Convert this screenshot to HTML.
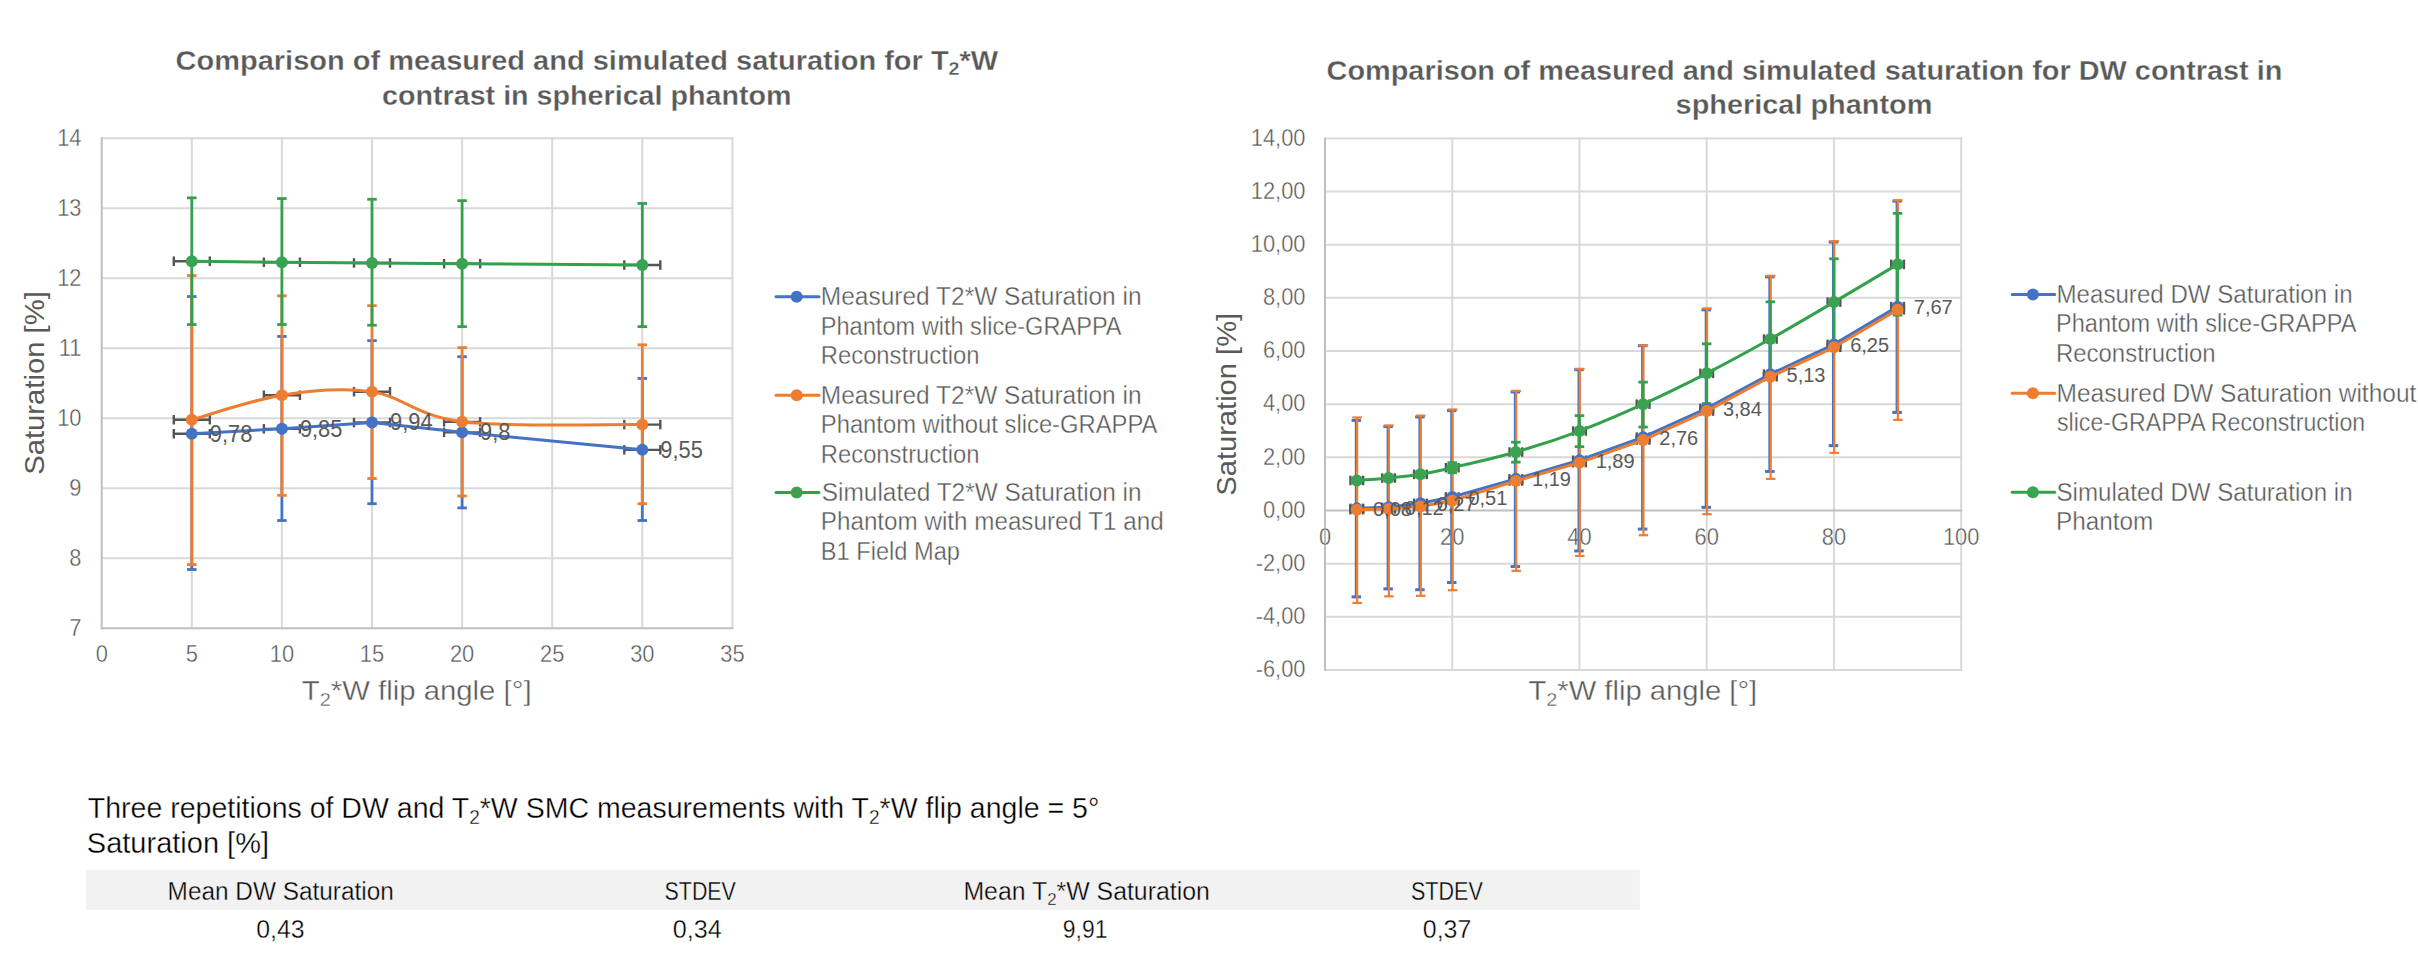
<!DOCTYPE html>
<html><head><meta charset="utf-8"><style>
html,body{margin:0;padding:0;background:#fff;width:2418px;height:966px;overflow:hidden}
svg{display:block}
text{font-family:"Liberation Sans",sans-serif}
.r{stroke:#fff;stroke-width:0.35px}
.b{stroke:#fff;stroke-width:0.3px}
.rb{stroke:#F2F2F2;stroke-width:0.35px}
</style></head><body>
<svg width="2418" height="966" viewBox="0 0 2418 966">
<rect width="2418" height="966" fill="#fff"/>
<line x1="101.70" y1="558.31" x2="733.40" y2="558.31" stroke="#D9D9D9" stroke-width="2.00"/>
<line x1="101.70" y1="488.32" x2="733.40" y2="488.32" stroke="#D9D9D9" stroke-width="2.00"/>
<line x1="101.70" y1="418.33" x2="733.40" y2="418.33" stroke="#D9D9D9" stroke-width="2.00"/>
<line x1="101.70" y1="348.34" x2="733.40" y2="348.34" stroke="#D9D9D9" stroke-width="2.00"/>
<line x1="101.70" y1="278.35" x2="733.40" y2="278.35" stroke="#D9D9D9" stroke-width="2.00"/>
<line x1="101.70" y1="208.36" x2="733.40" y2="208.36" stroke="#D9D9D9" stroke-width="2.00"/>
<line x1="101.70" y1="138.37" x2="733.40" y2="138.37" stroke="#D9D9D9" stroke-width="2.00"/>
<line x1="191.80" y1="137.37" x2="191.80" y2="628.30" stroke="#D9D9D9" stroke-width="2.00"/>
<line x1="281.90" y1="137.37" x2="281.90" y2="628.30" stroke="#D9D9D9" stroke-width="2.00"/>
<line x1="372.00" y1="137.37" x2="372.00" y2="628.30" stroke="#D9D9D9" stroke-width="2.00"/>
<line x1="462.10" y1="137.37" x2="462.10" y2="628.30" stroke="#D9D9D9" stroke-width="2.00"/>
<line x1="552.20" y1="137.37" x2="552.20" y2="628.30" stroke="#D9D9D9" stroke-width="2.00"/>
<line x1="642.30" y1="137.37" x2="642.30" y2="628.30" stroke="#D9D9D9" stroke-width="2.00"/>
<line x1="732.40" y1="137.37" x2="732.40" y2="628.30" stroke="#D9D9D9" stroke-width="2.00"/>
<line x1="101.70" y1="137.37" x2="101.70" y2="629.30" stroke="#BFBFBF" stroke-width="2.00"/>
<line x1="100.70" y1="628.30" x2="733.40" y2="628.30" stroke="#BFBFBF" stroke-width="2.00"/>
<text x="81.50" y="635.80" font-size="23.00" text-anchor="end" fill="#595959" class="r" textLength="12.15" lengthAdjust="spacingAndGlyphs">7</text>
<text x="81.50" y="565.81" font-size="23.00" text-anchor="end" fill="#595959" class="r" textLength="12.15" lengthAdjust="spacingAndGlyphs">8</text>
<text x="81.50" y="495.82" font-size="23.00" text-anchor="end" fill="#595959" class="r" textLength="12.15" lengthAdjust="spacingAndGlyphs">9</text>
<text x="81.50" y="425.83" font-size="23.00" text-anchor="end" fill="#595959" class="r" textLength="24.31" lengthAdjust="spacingAndGlyphs">10</text>
<text x="81.50" y="355.84" font-size="23.00" text-anchor="end" fill="#595959" class="r" textLength="22.68" lengthAdjust="spacingAndGlyphs">11</text>
<text x="81.50" y="285.85" font-size="23.00" text-anchor="end" fill="#595959" class="r" textLength="24.31" lengthAdjust="spacingAndGlyphs">12</text>
<text x="81.50" y="215.86" font-size="23.00" text-anchor="end" fill="#595959" class="r" textLength="24.31" lengthAdjust="spacingAndGlyphs">13</text>
<text x="81.50" y="145.87" font-size="23.00" text-anchor="end" fill="#595959" class="r" textLength="24.31" lengthAdjust="spacingAndGlyphs">14</text>
<text x="101.70" y="662.10" font-size="23.00" text-anchor="middle" fill="#595959" class="r" textLength="12.15" lengthAdjust="spacingAndGlyphs">0</text>
<text x="191.80" y="662.10" font-size="23.00" text-anchor="middle" fill="#595959" class="r" textLength="12.15" lengthAdjust="spacingAndGlyphs">5</text>
<text x="281.90" y="662.10" font-size="23.00" text-anchor="middle" fill="#595959" class="r" textLength="24.31" lengthAdjust="spacingAndGlyphs">10</text>
<text x="372.00" y="662.10" font-size="23.00" text-anchor="middle" fill="#595959" class="r" textLength="24.31" lengthAdjust="spacingAndGlyphs">15</text>
<text x="462.10" y="662.10" font-size="23.00" text-anchor="middle" fill="#595959" class="r" textLength="24.31" lengthAdjust="spacingAndGlyphs">20</text>
<text x="552.20" y="662.10" font-size="23.00" text-anchor="middle" fill="#595959" class="r" textLength="24.31" lengthAdjust="spacingAndGlyphs">25</text>
<text x="642.30" y="662.10" font-size="23.00" text-anchor="middle" fill="#595959" class="r" textLength="24.31" lengthAdjust="spacingAndGlyphs">30</text>
<text x="732.40" y="662.10" font-size="23.00" text-anchor="middle" fill="#595959" class="r" textLength="24.31" lengthAdjust="spacingAndGlyphs">35</text>
<line x1="191.80" y1="296.55" x2="191.80" y2="569.51" stroke="#4472C4" stroke-width="2.80"/>
<line x1="187.05" y1="296.55" x2="196.55" y2="296.55" stroke="#4472C4" stroke-width="2.80"/>
<line x1="187.05" y1="569.51" x2="196.55" y2="569.51" stroke="#4472C4" stroke-width="2.80"/>
<line x1="173.78" y1="433.73" x2="209.82" y2="433.73" stroke="#555555" stroke-width="2.40"/>
<line x1="173.78" y1="428.98" x2="173.78" y2="438.48" stroke="#555555" stroke-width="2.40"/>
<line x1="209.82" y1="428.98" x2="209.82" y2="438.48" stroke="#555555" stroke-width="2.40"/>
<line x1="281.90" y1="336.44" x2="281.90" y2="520.52" stroke="#4472C4" stroke-width="2.80"/>
<line x1="277.15" y1="336.44" x2="286.65" y2="336.44" stroke="#4472C4" stroke-width="2.80"/>
<line x1="277.15" y1="520.52" x2="286.65" y2="520.52" stroke="#4472C4" stroke-width="2.80"/>
<line x1="263.88" y1="428.83" x2="299.92" y2="428.83" stroke="#555555" stroke-width="2.40"/>
<line x1="263.88" y1="424.08" x2="263.88" y2="433.58" stroke="#555555" stroke-width="2.40"/>
<line x1="299.92" y1="424.08" x2="299.92" y2="433.58" stroke="#555555" stroke-width="2.40"/>
<line x1="372.00" y1="340.64" x2="372.00" y2="503.72" stroke="#4472C4" stroke-width="2.80"/>
<line x1="367.25" y1="340.64" x2="376.75" y2="340.64" stroke="#4472C4" stroke-width="2.80"/>
<line x1="367.25" y1="503.72" x2="376.75" y2="503.72" stroke="#4472C4" stroke-width="2.80"/>
<line x1="353.98" y1="422.53" x2="390.02" y2="422.53" stroke="#555555" stroke-width="2.40"/>
<line x1="353.98" y1="417.78" x2="353.98" y2="427.28" stroke="#555555" stroke-width="2.40"/>
<line x1="390.02" y1="417.78" x2="390.02" y2="427.28" stroke="#555555" stroke-width="2.40"/>
<line x1="462.10" y1="356.74" x2="462.10" y2="507.92" stroke="#4472C4" stroke-width="2.80"/>
<line x1="457.35" y1="356.74" x2="466.85" y2="356.74" stroke="#4472C4" stroke-width="2.80"/>
<line x1="457.35" y1="507.92" x2="466.85" y2="507.92" stroke="#4472C4" stroke-width="2.80"/>
<line x1="444.08" y1="432.33" x2="480.12" y2="432.33" stroke="#555555" stroke-width="2.40"/>
<line x1="444.08" y1="427.58" x2="444.08" y2="437.08" stroke="#555555" stroke-width="2.40"/>
<line x1="480.12" y1="427.58" x2="480.12" y2="437.08" stroke="#555555" stroke-width="2.40"/>
<line x1="642.30" y1="378.44" x2="642.30" y2="520.52" stroke="#4472C4" stroke-width="2.80"/>
<line x1="637.55" y1="378.44" x2="647.05" y2="378.44" stroke="#4472C4" stroke-width="2.80"/>
<line x1="637.55" y1="520.52" x2="647.05" y2="520.52" stroke="#4472C4" stroke-width="2.80"/>
<line x1="624.28" y1="449.83" x2="660.32" y2="449.83" stroke="#555555" stroke-width="2.40"/>
<line x1="624.28" y1="445.08" x2="624.28" y2="454.58" stroke="#555555" stroke-width="2.40"/>
<line x1="660.32" y1="445.08" x2="660.32" y2="454.58" stroke="#555555" stroke-width="2.40"/>
<line x1="191.80" y1="275.55" x2="191.80" y2="564.61" stroke="#ED7D31" stroke-width="2.80"/>
<line x1="187.05" y1="275.55" x2="196.55" y2="275.55" stroke="#ED7D31" stroke-width="2.80"/>
<line x1="187.05" y1="564.61" x2="196.55" y2="564.61" stroke="#ED7D31" stroke-width="2.80"/>
<line x1="173.78" y1="419.73" x2="209.82" y2="419.73" stroke="#555555" stroke-width="2.40"/>
<line x1="173.78" y1="414.98" x2="173.78" y2="424.48" stroke="#555555" stroke-width="2.40"/>
<line x1="209.82" y1="414.98" x2="209.82" y2="424.48" stroke="#555555" stroke-width="2.40"/>
<line x1="281.90" y1="295.85" x2="281.90" y2="495.32" stroke="#ED7D31" stroke-width="2.80"/>
<line x1="277.15" y1="295.85" x2="286.65" y2="295.85" stroke="#ED7D31" stroke-width="2.80"/>
<line x1="277.15" y1="495.32" x2="286.65" y2="495.32" stroke="#ED7D31" stroke-width="2.80"/>
<line x1="263.88" y1="395.23" x2="299.92" y2="395.23" stroke="#555555" stroke-width="2.40"/>
<line x1="263.88" y1="390.48" x2="263.88" y2="399.98" stroke="#555555" stroke-width="2.40"/>
<line x1="299.92" y1="390.48" x2="299.92" y2="399.98" stroke="#555555" stroke-width="2.40"/>
<line x1="372.00" y1="305.65" x2="372.00" y2="478.52" stroke="#ED7D31" stroke-width="2.80"/>
<line x1="367.25" y1="305.65" x2="376.75" y2="305.65" stroke="#ED7D31" stroke-width="2.80"/>
<line x1="367.25" y1="478.52" x2="376.75" y2="478.52" stroke="#ED7D31" stroke-width="2.80"/>
<line x1="353.98" y1="391.73" x2="390.02" y2="391.73" stroke="#555555" stroke-width="2.40"/>
<line x1="353.98" y1="386.98" x2="353.98" y2="396.48" stroke="#555555" stroke-width="2.40"/>
<line x1="390.02" y1="386.98" x2="390.02" y2="396.48" stroke="#555555" stroke-width="2.40"/>
<line x1="462.10" y1="347.64" x2="462.10" y2="496.02" stroke="#ED7D31" stroke-width="2.80"/>
<line x1="457.35" y1="347.64" x2="466.85" y2="347.64" stroke="#ED7D31" stroke-width="2.80"/>
<line x1="457.35" y1="496.02" x2="466.85" y2="496.02" stroke="#ED7D31" stroke-width="2.80"/>
<line x1="444.08" y1="421.83" x2="480.12" y2="421.83" stroke="#555555" stroke-width="2.40"/>
<line x1="444.08" y1="417.08" x2="444.08" y2="426.58" stroke="#555555" stroke-width="2.40"/>
<line x1="480.12" y1="417.08" x2="480.12" y2="426.58" stroke="#555555" stroke-width="2.40"/>
<line x1="642.30" y1="344.84" x2="642.30" y2="503.72" stroke="#ED7D31" stroke-width="2.80"/>
<line x1="637.55" y1="344.84" x2="647.05" y2="344.84" stroke="#ED7D31" stroke-width="2.80"/>
<line x1="637.55" y1="503.72" x2="647.05" y2="503.72" stroke="#ED7D31" stroke-width="2.80"/>
<line x1="624.28" y1="424.63" x2="660.32" y2="424.63" stroke="#555555" stroke-width="2.40"/>
<line x1="624.28" y1="419.88" x2="624.28" y2="429.38" stroke="#555555" stroke-width="2.40"/>
<line x1="660.32" y1="419.88" x2="660.32" y2="429.38" stroke="#555555" stroke-width="2.40"/>
<line x1="191.80" y1="197.86" x2="191.80" y2="324.54" stroke="#33A14B" stroke-width="2.80"/>
<line x1="187.05" y1="197.86" x2="196.55" y2="197.86" stroke="#33A14B" stroke-width="2.80"/>
<line x1="187.05" y1="324.54" x2="196.55" y2="324.54" stroke="#33A14B" stroke-width="2.80"/>
<line x1="173.78" y1="261.20" x2="209.82" y2="261.20" stroke="#555555" stroke-width="2.40"/>
<line x1="173.78" y1="256.45" x2="173.78" y2="265.95" stroke="#555555" stroke-width="2.40"/>
<line x1="209.82" y1="256.45" x2="209.82" y2="265.95" stroke="#555555" stroke-width="2.40"/>
<line x1="281.90" y1="198.56" x2="281.90" y2="324.54" stroke="#33A14B" stroke-width="2.80"/>
<line x1="277.15" y1="198.56" x2="286.65" y2="198.56" stroke="#33A14B" stroke-width="2.80"/>
<line x1="277.15" y1="324.54" x2="286.65" y2="324.54" stroke="#33A14B" stroke-width="2.80"/>
<line x1="263.88" y1="262.25" x2="299.92" y2="262.25" stroke="#555555" stroke-width="2.40"/>
<line x1="263.88" y1="257.50" x2="263.88" y2="267.00" stroke="#555555" stroke-width="2.40"/>
<line x1="299.92" y1="257.50" x2="299.92" y2="267.00" stroke="#555555" stroke-width="2.40"/>
<line x1="372.00" y1="199.26" x2="372.00" y2="325.24" stroke="#33A14B" stroke-width="2.80"/>
<line x1="367.25" y1="199.26" x2="376.75" y2="199.26" stroke="#33A14B" stroke-width="2.80"/>
<line x1="367.25" y1="325.24" x2="376.75" y2="325.24" stroke="#33A14B" stroke-width="2.80"/>
<line x1="353.98" y1="262.95" x2="390.02" y2="262.95" stroke="#555555" stroke-width="2.40"/>
<line x1="353.98" y1="258.20" x2="353.98" y2="267.70" stroke="#555555" stroke-width="2.40"/>
<line x1="390.02" y1="258.20" x2="390.02" y2="267.70" stroke="#555555" stroke-width="2.40"/>
<line x1="462.10" y1="200.66" x2="462.10" y2="326.64" stroke="#33A14B" stroke-width="2.80"/>
<line x1="457.35" y1="200.66" x2="466.85" y2="200.66" stroke="#33A14B" stroke-width="2.80"/>
<line x1="457.35" y1="326.64" x2="466.85" y2="326.64" stroke="#33A14B" stroke-width="2.80"/>
<line x1="444.08" y1="263.65" x2="480.12" y2="263.65" stroke="#555555" stroke-width="2.40"/>
<line x1="444.08" y1="258.90" x2="444.08" y2="268.40" stroke="#555555" stroke-width="2.40"/>
<line x1="480.12" y1="258.90" x2="480.12" y2="268.40" stroke="#555555" stroke-width="2.40"/>
<line x1="642.30" y1="203.46" x2="642.30" y2="326.64" stroke="#33A14B" stroke-width="2.80"/>
<line x1="637.55" y1="203.46" x2="647.05" y2="203.46" stroke="#33A14B" stroke-width="2.80"/>
<line x1="637.55" y1="326.64" x2="647.05" y2="326.64" stroke="#33A14B" stroke-width="2.80"/>
<line x1="624.28" y1="265.05" x2="660.32" y2="265.05" stroke="#555555" stroke-width="2.40"/>
<line x1="624.28" y1="260.30" x2="624.28" y2="269.80" stroke="#555555" stroke-width="2.40"/>
<line x1="660.32" y1="260.30" x2="660.32" y2="269.80" stroke="#555555" stroke-width="2.40"/>
<polyline points="191.80,433.73 281.90,428.83 372.00,422.53 462.10,432.33 642.30,449.83" fill="none" stroke="#4472C4" stroke-width="3.0" stroke-linejoin="round"/>
<circle cx="191.80" cy="433.73" r="6.0" fill="#4472C4"/>
<circle cx="281.90" cy="428.83" r="6.0" fill="#4472C4"/>
<circle cx="372.00" cy="422.53" r="6.0" fill="#4472C4"/>
<circle cx="462.10" cy="432.33" r="6.0" fill="#4472C4"/>
<circle cx="642.30" cy="449.83" r="6.0" fill="#4472C4"/>
<path d="M191.80,419.73 C206.82,415.65 251.87,399.90 281.90,395.23 C311.93,390.57 341.97,387.30 372.00,391.73 C402.03,396.17 417.05,416.35 462.10,421.83 C507.15,427.31 612.27,424.16 642.30,424.63" fill="none" stroke="#ED7D31" stroke-width="3"/>
<circle cx="191.80" cy="419.73" r="6.0" fill="#ED7D31"/>
<circle cx="281.90" cy="395.23" r="6.0" fill="#ED7D31"/>
<circle cx="372.00" cy="391.73" r="6.0" fill="#ED7D31"/>
<circle cx="462.10" cy="421.83" r="6.0" fill="#ED7D31"/>
<circle cx="642.30" cy="424.63" r="6.0" fill="#ED7D31"/>
<polyline points="191.80,261.20 281.90,262.25 372.00,262.95 462.10,263.65 642.30,265.05" fill="none" stroke="#33A14B" stroke-width="3.0" stroke-linejoin="round"/>
<circle cx="191.80" cy="261.20" r="6.0" fill="#3AA352"/>
<circle cx="281.90" cy="262.25" r="6.0" fill="#3AA352"/>
<circle cx="372.00" cy="262.95" r="6.0" fill="#3AA352"/>
<circle cx="462.10" cy="263.65" r="6.0" fill="#3AA352"/>
<circle cx="642.30" cy="265.05" r="6.0" fill="#3AA352"/>
<text x="209.80" y="441.53" font-size="23.00" text-anchor="start" fill="#595959" textLength="42.53" lengthAdjust="spacingAndGlyphs">9,78</text>
<text x="299.90" y="436.63" font-size="23.00" text-anchor="start" fill="#595959" textLength="42.53" lengthAdjust="spacingAndGlyphs">9,85</text>
<text x="390.00" y="430.33" font-size="23.00" text-anchor="start" fill="#595959" textLength="42.53" lengthAdjust="spacingAndGlyphs">9,94</text>
<text x="480.10" y="440.13" font-size="23.00" text-anchor="start" fill="#595959" textLength="30.38" lengthAdjust="spacingAndGlyphs">9,8</text>
<text x="660.30" y="457.63" font-size="23.00" text-anchor="start" fill="#595959" textLength="42.53" lengthAdjust="spacingAndGlyphs">9,55</text>
<text x="175.60" y="70.10" font-size="28.00" fill="#595959" font-weight="bold" class="b" textLength="822.60" lengthAdjust="spacingAndGlyphs">Comparison of measured and simulated saturation for T<tspan font-size="19.0" dy="5.0">2</tspan><tspan dy="-5.0">*W</tspan></text>
<text x="382.00" y="104.80" font-size="28.00" fill="#595959" font-weight="bold" class="b" textLength="409.60" lengthAdjust="spacingAndGlyphs">contrast in spherical phantom</text>
<text x="301.80" y="699.90" font-size="28.00" fill="#595959" class="r" textLength="229.80" lengthAdjust="spacingAndGlyphs">T<tspan font-size="19.0" dy="6.0">2</tspan><tspan dy="-6.0">*W flip angle [°]</tspan></text>
<text transform="translate(43.5,383) rotate(-90)" x="0" y="0" font-size="28" fill="#595959" text-anchor="middle" textLength="183.5" lengthAdjust="spacingAndGlyphs">Saturation [%]</text>
<line x1="776.00" y1="296.70" x2="819.00" y2="296.70" stroke="#4472C4" stroke-width="3.00" stroke-linecap="round"/>
<circle cx="796.7" cy="296.70" r="6.0" fill="#4472C4"/>
<text x="820.80" y="305.00" font-size="25.50" fill="#595959" class="r" textLength="320.80" lengthAdjust="spacingAndGlyphs">Measured T2*W Saturation in</text>
<text x="820.80" y="334.50" font-size="25.50" fill="#595959" class="r" textLength="300.80" lengthAdjust="spacingAndGlyphs">Phantom with slice-GRAPPA</text>
<text x="820.80" y="364.00" font-size="25.50" fill="#595959" class="r" textLength="158.80" lengthAdjust="spacingAndGlyphs">Reconstruction</text>
<line x1="776.00" y1="395.20" x2="819.00" y2="395.20" stroke="#ED7D31" stroke-width="3.00" stroke-linecap="round"/>
<circle cx="796.7" cy="395.20" r="6.0" fill="#ED7D31"/>
<text x="820.80" y="403.50" font-size="25.50" fill="#595959" class="r" textLength="320.80" lengthAdjust="spacingAndGlyphs">Measured T2*W Saturation in</text>
<text x="820.80" y="433.00" font-size="25.50" fill="#595959" class="r" textLength="336.60" lengthAdjust="spacingAndGlyphs">Phantom without slice-GRAPPA</text>
<text x="820.80" y="462.50" font-size="25.50" fill="#595959" class="r" textLength="158.80" lengthAdjust="spacingAndGlyphs">Reconstruction</text>
<line x1="776.00" y1="492.40" x2="819.00" y2="492.40" stroke="#33A14B" stroke-width="3.00" stroke-linecap="round"/>
<circle cx="796.7" cy="492.40" r="6.0" fill="#3AA352"/>
<text x="821.80" y="500.70" font-size="25.50" fill="#595959" class="r" textLength="319.80" lengthAdjust="spacingAndGlyphs">Simulated T2*W Saturation in</text>
<text x="820.80" y="530.20" font-size="25.50" fill="#595959" class="r" textLength="342.80" lengthAdjust="spacingAndGlyphs">Phantom with measured T1 and</text>
<text x="820.80" y="559.70" font-size="25.50" fill="#595959" class="r" textLength="139.20" lengthAdjust="spacingAndGlyphs">B1 Field Map</text>
<line x1="1325.00" y1="669.98" x2="1962.20" y2="669.98" stroke="#D9D9D9" stroke-width="2.00"/>
<line x1="1325.00" y1="616.82" x2="1962.20" y2="616.82" stroke="#D9D9D9" stroke-width="2.00"/>
<line x1="1325.00" y1="563.66" x2="1962.20" y2="563.66" stroke="#D9D9D9" stroke-width="2.00"/>
<line x1="1325.00" y1="457.34" x2="1962.20" y2="457.34" stroke="#D9D9D9" stroke-width="2.00"/>
<line x1="1325.00" y1="404.18" x2="1962.20" y2="404.18" stroke="#D9D9D9" stroke-width="2.00"/>
<line x1="1325.00" y1="351.02" x2="1962.20" y2="351.02" stroke="#D9D9D9" stroke-width="2.00"/>
<line x1="1325.00" y1="297.86" x2="1962.20" y2="297.86" stroke="#D9D9D9" stroke-width="2.00"/>
<line x1="1325.00" y1="244.70" x2="1962.20" y2="244.70" stroke="#D9D9D9" stroke-width="2.00"/>
<line x1="1325.00" y1="191.54" x2="1962.20" y2="191.54" stroke="#D9D9D9" stroke-width="2.00"/>
<line x1="1325.00" y1="138.38" x2="1962.20" y2="138.38" stroke="#D9D9D9" stroke-width="2.00"/>
<line x1="1452.24" y1="137.38" x2="1452.24" y2="670.98" stroke="#D9D9D9" stroke-width="2.00"/>
<line x1="1579.48" y1="137.38" x2="1579.48" y2="670.98" stroke="#D9D9D9" stroke-width="2.00"/>
<line x1="1706.72" y1="137.38" x2="1706.72" y2="670.98" stroke="#D9D9D9" stroke-width="2.00"/>
<line x1="1833.96" y1="137.38" x2="1833.96" y2="670.98" stroke="#D9D9D9" stroke-width="2.00"/>
<line x1="1961.20" y1="137.38" x2="1961.20" y2="670.98" stroke="#D9D9D9" stroke-width="2.00"/>
<line x1="1325.00" y1="137.38" x2="1325.00" y2="670.98" stroke="#BFBFBF" stroke-width="2.00"/>
<line x1="1324.00" y1="510.50" x2="1962.20" y2="510.50" stroke="#BFBFBF" stroke-width="2.00"/>
<text x="1305.50" y="677.18" font-size="23.00" text-anchor="end" fill="#595959" class="r" textLength="49.81" lengthAdjust="spacingAndGlyphs">-6,00</text>
<text x="1305.50" y="624.02" font-size="23.00" text-anchor="end" fill="#595959" class="r" textLength="49.81" lengthAdjust="spacingAndGlyphs">-4,00</text>
<text x="1305.50" y="570.86" font-size="23.00" text-anchor="end" fill="#595959" class="r" textLength="49.81" lengthAdjust="spacingAndGlyphs">-2,00</text>
<text x="1305.50" y="517.70" font-size="23.00" text-anchor="end" fill="#595959" class="r" textLength="42.53" lengthAdjust="spacingAndGlyphs">0,00</text>
<text x="1305.50" y="464.54" font-size="23.00" text-anchor="end" fill="#595959" class="r" textLength="42.53" lengthAdjust="spacingAndGlyphs">2,00</text>
<text x="1305.50" y="411.38" font-size="23.00" text-anchor="end" fill="#595959" class="r" textLength="42.53" lengthAdjust="spacingAndGlyphs">4,00</text>
<text x="1305.50" y="358.22" font-size="23.00" text-anchor="end" fill="#595959" class="r" textLength="42.53" lengthAdjust="spacingAndGlyphs">6,00</text>
<text x="1305.50" y="305.06" font-size="23.00" text-anchor="end" fill="#595959" class="r" textLength="42.53" lengthAdjust="spacingAndGlyphs">8,00</text>
<text x="1305.50" y="251.90" font-size="23.00" text-anchor="end" fill="#595959" class="r" textLength="54.68" lengthAdjust="spacingAndGlyphs">10,00</text>
<text x="1305.50" y="198.74" font-size="23.00" text-anchor="end" fill="#595959" class="r" textLength="54.68" lengthAdjust="spacingAndGlyphs">12,00</text>
<text x="1305.50" y="145.58" font-size="23.00" text-anchor="end" fill="#595959" class="r" textLength="54.68" lengthAdjust="spacingAndGlyphs">14,00</text>
<text x="1325.00" y="544.80" font-size="23.00" text-anchor="middle" fill="#595959" class="r" textLength="12.15" lengthAdjust="spacingAndGlyphs">0</text>
<text x="1452.24" y="544.80" font-size="23.00" text-anchor="middle" fill="#595959" class="r" textLength="24.31" lengthAdjust="spacingAndGlyphs">20</text>
<text x="1579.48" y="544.80" font-size="23.00" text-anchor="middle" fill="#595959" class="r" textLength="24.31" lengthAdjust="spacingAndGlyphs">40</text>
<text x="1706.72" y="544.80" font-size="23.00" text-anchor="middle" fill="#595959" class="r" textLength="24.31" lengthAdjust="spacingAndGlyphs">60</text>
<text x="1833.96" y="544.80" font-size="23.00" text-anchor="middle" fill="#595959" class="r" textLength="24.31" lengthAdjust="spacingAndGlyphs">80</text>
<text x="1961.20" y="544.80" font-size="23.00" text-anchor="middle" fill="#595959" class="r" textLength="36.46" lengthAdjust="spacingAndGlyphs">100</text>
<line x1="1356.31" y1="420.39" x2="1356.31" y2="596.88" stroke="#4472C4" stroke-width="3.00"/>
<line x1="1351.56" y1="420.39" x2="1361.06" y2="420.39" stroke="#4472C4" stroke-width="3.00"/>
<line x1="1351.56" y1="596.88" x2="1361.06" y2="596.88" stroke="#4472C4" stroke-width="3.00"/>
<line x1="1350.45" y1="508.37" x2="1363.17" y2="508.37" stroke="#555555" stroke-width="2.40"/>
<line x1="1350.45" y1="503.62" x2="1350.45" y2="513.12" stroke="#555555" stroke-width="2.40"/>
<line x1="1363.17" y1="503.62" x2="1363.17" y2="513.12" stroke="#555555" stroke-width="2.40"/>
<line x1="1388.12" y1="426.51" x2="1388.12" y2="588.91" stroke="#4472C4" stroke-width="3.00"/>
<line x1="1383.37" y1="426.51" x2="1392.87" y2="426.51" stroke="#4472C4" stroke-width="3.00"/>
<line x1="1383.37" y1="588.91" x2="1392.87" y2="588.91" stroke="#4472C4" stroke-width="3.00"/>
<line x1="1382.26" y1="507.31" x2="1394.98" y2="507.31" stroke="#555555" stroke-width="2.40"/>
<line x1="1382.26" y1="502.56" x2="1382.26" y2="512.06" stroke="#555555" stroke-width="2.40"/>
<line x1="1394.98" y1="502.56" x2="1394.98" y2="512.06" stroke="#555555" stroke-width="2.40"/>
<line x1="1419.93" y1="416.94" x2="1419.93" y2="589.71" stroke="#4472C4" stroke-width="3.00"/>
<line x1="1415.18" y1="416.94" x2="1424.68" y2="416.94" stroke="#4472C4" stroke-width="3.00"/>
<line x1="1415.18" y1="589.71" x2="1424.68" y2="589.71" stroke="#4472C4" stroke-width="3.00"/>
<line x1="1414.07" y1="503.32" x2="1426.79" y2="503.32" stroke="#555555" stroke-width="2.40"/>
<line x1="1414.07" y1="498.57" x2="1414.07" y2="508.07" stroke="#555555" stroke-width="2.40"/>
<line x1="1426.79" y1="498.57" x2="1426.79" y2="508.07" stroke="#555555" stroke-width="2.40"/>
<line x1="1451.74" y1="410.56" x2="1451.74" y2="582.53" stroke="#4472C4" stroke-width="3.00"/>
<line x1="1446.99" y1="410.56" x2="1456.49" y2="410.56" stroke="#4472C4" stroke-width="3.00"/>
<line x1="1446.99" y1="582.53" x2="1456.49" y2="582.53" stroke="#4472C4" stroke-width="3.00"/>
<line x1="1445.88" y1="496.94" x2="1458.60" y2="496.94" stroke="#555555" stroke-width="2.40"/>
<line x1="1445.88" y1="492.19" x2="1445.88" y2="501.69" stroke="#555555" stroke-width="2.40"/>
<line x1="1458.60" y1="492.19" x2="1458.60" y2="501.69" stroke="#555555" stroke-width="2.40"/>
<line x1="1515.36" y1="391.95" x2="1515.36" y2="566.58" stroke="#4472C4" stroke-width="3.00"/>
<line x1="1510.61" y1="391.95" x2="1520.11" y2="391.95" stroke="#4472C4" stroke-width="3.00"/>
<line x1="1510.61" y1="566.58" x2="1520.11" y2="566.58" stroke="#4472C4" stroke-width="3.00"/>
<line x1="1509.50" y1="478.87" x2="1522.22" y2="478.87" stroke="#555555" stroke-width="2.40"/>
<line x1="1509.50" y1="474.12" x2="1509.50" y2="483.62" stroke="#555555" stroke-width="2.40"/>
<line x1="1522.22" y1="474.12" x2="1522.22" y2="483.62" stroke="#555555" stroke-width="2.40"/>
<line x1="1578.98" y1="369.63" x2="1578.98" y2="550.90" stroke="#4472C4" stroke-width="3.00"/>
<line x1="1574.23" y1="369.63" x2="1583.73" y2="369.63" stroke="#4472C4" stroke-width="3.00"/>
<line x1="1574.23" y1="550.90" x2="1583.73" y2="550.90" stroke="#4472C4" stroke-width="3.00"/>
<line x1="1573.12" y1="460.26" x2="1585.84" y2="460.26" stroke="#555555" stroke-width="2.40"/>
<line x1="1573.12" y1="455.51" x2="1573.12" y2="465.01" stroke="#555555" stroke-width="2.40"/>
<line x1="1585.84" y1="455.51" x2="1585.84" y2="465.01" stroke="#555555" stroke-width="2.40"/>
<line x1="1642.60" y1="345.70" x2="1642.60" y2="529.11" stroke="#4472C4" stroke-width="3.00"/>
<line x1="1637.85" y1="345.70" x2="1647.35" y2="345.70" stroke="#4472C4" stroke-width="3.00"/>
<line x1="1637.85" y1="529.11" x2="1647.35" y2="529.11" stroke="#4472C4" stroke-width="3.00"/>
<line x1="1636.74" y1="437.14" x2="1649.46" y2="437.14" stroke="#555555" stroke-width="2.40"/>
<line x1="1636.74" y1="432.39" x2="1636.74" y2="441.89" stroke="#555555" stroke-width="2.40"/>
<line x1="1649.46" y1="432.39" x2="1649.46" y2="441.89" stroke="#555555" stroke-width="2.40"/>
<line x1="1706.22" y1="309.82" x2="1706.22" y2="507.31" stroke="#4472C4" stroke-width="3.00"/>
<line x1="1701.47" y1="309.82" x2="1710.97" y2="309.82" stroke="#4472C4" stroke-width="3.00"/>
<line x1="1701.47" y1="507.31" x2="1710.97" y2="507.31" stroke="#4472C4" stroke-width="3.00"/>
<line x1="1700.36" y1="408.43" x2="1713.08" y2="408.43" stroke="#555555" stroke-width="2.40"/>
<line x1="1700.36" y1="403.68" x2="1700.36" y2="413.18" stroke="#555555" stroke-width="2.40"/>
<line x1="1713.08" y1="403.68" x2="1713.08" y2="413.18" stroke="#555555" stroke-width="2.40"/>
<line x1="1769.84" y1="276.86" x2="1769.84" y2="471.43" stroke="#4472C4" stroke-width="3.00"/>
<line x1="1765.09" y1="276.86" x2="1774.59" y2="276.86" stroke="#4472C4" stroke-width="3.00"/>
<line x1="1765.09" y1="471.43" x2="1774.59" y2="471.43" stroke="#4472C4" stroke-width="3.00"/>
<line x1="1763.98" y1="374.14" x2="1776.70" y2="374.14" stroke="#555555" stroke-width="2.40"/>
<line x1="1763.98" y1="369.39" x2="1763.98" y2="378.89" stroke="#555555" stroke-width="2.40"/>
<line x1="1776.70" y1="369.39" x2="1776.70" y2="378.89" stroke="#555555" stroke-width="2.40"/>
<line x1="1833.46" y1="242.04" x2="1833.46" y2="445.64" stroke="#4472C4" stroke-width="3.00"/>
<line x1="1828.71" y1="242.04" x2="1838.21" y2="242.04" stroke="#4472C4" stroke-width="3.00"/>
<line x1="1828.71" y1="445.64" x2="1838.21" y2="445.64" stroke="#4472C4" stroke-width="3.00"/>
<line x1="1827.60" y1="344.38" x2="1840.32" y2="344.38" stroke="#555555" stroke-width="2.40"/>
<line x1="1827.60" y1="339.62" x2="1827.60" y2="349.12" stroke="#555555" stroke-width="2.40"/>
<line x1="1840.32" y1="339.62" x2="1840.32" y2="349.12" stroke="#555555" stroke-width="2.40"/>
<line x1="1897.08" y1="201.11" x2="1897.08" y2="412.42" stroke="#4472C4" stroke-width="3.00"/>
<line x1="1892.33" y1="201.11" x2="1901.83" y2="201.11" stroke="#4472C4" stroke-width="3.00"/>
<line x1="1892.33" y1="412.42" x2="1901.83" y2="412.42" stroke="#4472C4" stroke-width="3.00"/>
<line x1="1891.22" y1="306.63" x2="1903.94" y2="306.63" stroke="#555555" stroke-width="2.40"/>
<line x1="1891.22" y1="301.88" x2="1891.22" y2="311.38" stroke="#555555" stroke-width="2.40"/>
<line x1="1903.94" y1="301.88" x2="1903.94" y2="311.38" stroke="#555555" stroke-width="2.40"/>
<line x1="1357.11" y1="417.47" x2="1357.11" y2="603.00" stroke="#ED7D31" stroke-width="2.20"/>
<line x1="1352.36" y1="417.47" x2="1361.86" y2="417.47" stroke="#ED7D31" stroke-width="2.20"/>
<line x1="1352.36" y1="603.00" x2="1361.86" y2="603.00" stroke="#ED7D31" stroke-width="2.20"/>
<line x1="1350.45" y1="509.70" x2="1363.17" y2="509.70" stroke="#555555" stroke-width="2.40"/>
<line x1="1350.45" y1="504.95" x2="1350.45" y2="514.45" stroke="#555555" stroke-width="2.40"/>
<line x1="1363.17" y1="504.95" x2="1363.17" y2="514.45" stroke="#555555" stroke-width="2.40"/>
<line x1="1388.92" y1="425.44" x2="1388.92" y2="596.35" stroke="#ED7D31" stroke-width="2.20"/>
<line x1="1384.17" y1="425.44" x2="1393.67" y2="425.44" stroke="#ED7D31" stroke-width="2.20"/>
<line x1="1384.17" y1="596.35" x2="1393.67" y2="596.35" stroke="#ED7D31" stroke-width="2.20"/>
<line x1="1382.26" y1="508.91" x2="1394.98" y2="508.91" stroke="#555555" stroke-width="2.40"/>
<line x1="1382.26" y1="504.16" x2="1382.26" y2="513.66" stroke="#555555" stroke-width="2.40"/>
<line x1="1394.98" y1="504.16" x2="1394.98" y2="513.66" stroke="#555555" stroke-width="2.40"/>
<line x1="1420.73" y1="415.61" x2="1420.73" y2="595.82" stroke="#ED7D31" stroke-width="2.20"/>
<line x1="1415.98" y1="415.61" x2="1425.48" y2="415.61" stroke="#ED7D31" stroke-width="2.20"/>
<line x1="1415.98" y1="595.82" x2="1425.48" y2="595.82" stroke="#ED7D31" stroke-width="2.20"/>
<line x1="1414.07" y1="506.51" x2="1426.79" y2="506.51" stroke="#555555" stroke-width="2.40"/>
<line x1="1414.07" y1="501.76" x2="1414.07" y2="511.26" stroke="#555555" stroke-width="2.40"/>
<line x1="1426.79" y1="501.76" x2="1426.79" y2="511.26" stroke="#555555" stroke-width="2.40"/>
<line x1="1452.54" y1="409.50" x2="1452.54" y2="590.24" stroke="#ED7D31" stroke-width="2.20"/>
<line x1="1447.79" y1="409.50" x2="1457.29" y2="409.50" stroke="#ED7D31" stroke-width="2.20"/>
<line x1="1447.79" y1="590.24" x2="1457.29" y2="590.24" stroke="#ED7D31" stroke-width="2.20"/>
<line x1="1445.88" y1="500.67" x2="1458.60" y2="500.67" stroke="#555555" stroke-width="2.40"/>
<line x1="1445.88" y1="495.92" x2="1445.88" y2="505.42" stroke="#555555" stroke-width="2.40"/>
<line x1="1458.60" y1="495.92" x2="1458.60" y2="505.42" stroke="#555555" stroke-width="2.40"/>
<line x1="1516.16" y1="390.89" x2="1516.16" y2="570.84" stroke="#ED7D31" stroke-width="2.20"/>
<line x1="1511.41" y1="390.89" x2="1520.91" y2="390.89" stroke="#ED7D31" stroke-width="2.20"/>
<line x1="1511.41" y1="570.84" x2="1520.91" y2="570.84" stroke="#ED7D31" stroke-width="2.20"/>
<line x1="1509.50" y1="481.00" x2="1522.22" y2="481.00" stroke="#555555" stroke-width="2.40"/>
<line x1="1509.50" y1="476.25" x2="1509.50" y2="485.75" stroke="#555555" stroke-width="2.40"/>
<line x1="1522.22" y1="476.25" x2="1522.22" y2="485.75" stroke="#555555" stroke-width="2.40"/>
<line x1="1579.78" y1="368.83" x2="1579.78" y2="555.95" stroke="#ED7D31" stroke-width="2.20"/>
<line x1="1575.03" y1="368.83" x2="1584.53" y2="368.83" stroke="#ED7D31" stroke-width="2.20"/>
<line x1="1575.03" y1="555.95" x2="1584.53" y2="555.95" stroke="#ED7D31" stroke-width="2.20"/>
<line x1="1573.12" y1="462.66" x2="1585.84" y2="462.66" stroke="#555555" stroke-width="2.40"/>
<line x1="1573.12" y1="457.91" x2="1573.12" y2="467.41" stroke="#555555" stroke-width="2.40"/>
<line x1="1585.84" y1="457.91" x2="1585.84" y2="467.41" stroke="#555555" stroke-width="2.40"/>
<line x1="1643.40" y1="345.44" x2="1643.40" y2="535.22" stroke="#ED7D31" stroke-width="2.20"/>
<line x1="1638.65" y1="345.44" x2="1648.15" y2="345.44" stroke="#ED7D31" stroke-width="2.20"/>
<line x1="1638.65" y1="535.22" x2="1648.15" y2="535.22" stroke="#ED7D31" stroke-width="2.20"/>
<line x1="1636.74" y1="440.06" x2="1649.46" y2="440.06" stroke="#555555" stroke-width="2.40"/>
<line x1="1636.74" y1="435.31" x2="1636.74" y2="444.81" stroke="#555555" stroke-width="2.40"/>
<line x1="1649.46" y1="435.31" x2="1649.46" y2="444.81" stroke="#555555" stroke-width="2.40"/>
<line x1="1707.02" y1="308.49" x2="1707.02" y2="514.22" stroke="#ED7D31" stroke-width="2.20"/>
<line x1="1702.27" y1="308.49" x2="1711.77" y2="308.49" stroke="#ED7D31" stroke-width="2.20"/>
<line x1="1702.27" y1="514.22" x2="1711.77" y2="514.22" stroke="#ED7D31" stroke-width="2.20"/>
<line x1="1700.36" y1="411.09" x2="1713.08" y2="411.09" stroke="#555555" stroke-width="2.40"/>
<line x1="1700.36" y1="406.34" x2="1700.36" y2="415.84" stroke="#555555" stroke-width="2.40"/>
<line x1="1713.08" y1="406.34" x2="1713.08" y2="415.84" stroke="#555555" stroke-width="2.40"/>
<line x1="1770.64" y1="275.80" x2="1770.64" y2="478.87" stroke="#ED7D31" stroke-width="2.20"/>
<line x1="1765.89" y1="275.80" x2="1775.39" y2="275.80" stroke="#ED7D31" stroke-width="2.20"/>
<line x1="1765.89" y1="478.87" x2="1775.39" y2="478.87" stroke="#ED7D31" stroke-width="2.20"/>
<line x1="1763.98" y1="376.80" x2="1776.70" y2="376.80" stroke="#555555" stroke-width="2.40"/>
<line x1="1763.98" y1="372.05" x2="1763.98" y2="381.55" stroke="#555555" stroke-width="2.40"/>
<line x1="1776.70" y1="372.05" x2="1776.70" y2="381.55" stroke="#555555" stroke-width="2.40"/>
<line x1="1834.26" y1="241.24" x2="1834.26" y2="452.82" stroke="#ED7D31" stroke-width="2.20"/>
<line x1="1829.51" y1="241.24" x2="1839.01" y2="241.24" stroke="#ED7D31" stroke-width="2.20"/>
<line x1="1829.51" y1="452.82" x2="1839.01" y2="452.82" stroke="#ED7D31" stroke-width="2.20"/>
<line x1="1827.60" y1="347.30" x2="1840.32" y2="347.30" stroke="#555555" stroke-width="2.40"/>
<line x1="1827.60" y1="342.55" x2="1827.60" y2="352.05" stroke="#555555" stroke-width="2.40"/>
<line x1="1840.32" y1="342.55" x2="1840.32" y2="352.05" stroke="#555555" stroke-width="2.40"/>
<line x1="1897.88" y1="200.31" x2="1897.88" y2="419.86" stroke="#ED7D31" stroke-width="2.20"/>
<line x1="1893.13" y1="200.31" x2="1902.63" y2="200.31" stroke="#ED7D31" stroke-width="2.20"/>
<line x1="1893.13" y1="419.86" x2="1902.63" y2="419.86" stroke="#ED7D31" stroke-width="2.20"/>
<line x1="1891.22" y1="309.82" x2="1903.94" y2="309.82" stroke="#555555" stroke-width="2.40"/>
<line x1="1891.22" y1="305.07" x2="1891.22" y2="314.57" stroke="#555555" stroke-width="2.40"/>
<line x1="1903.94" y1="305.07" x2="1903.94" y2="314.57" stroke="#555555" stroke-width="2.40"/>
<line x1="1356.81" y1="478.60" x2="1356.81" y2="482.59" stroke="#33A14B" stroke-width="2.80"/>
<line x1="1352.06" y1="478.60" x2="1361.56" y2="478.60" stroke="#33A14B" stroke-width="2.80"/>
<line x1="1352.06" y1="482.59" x2="1361.56" y2="482.59" stroke="#33A14B" stroke-width="2.80"/>
<line x1="1350.45" y1="480.46" x2="1363.17" y2="480.46" stroke="#555555" stroke-width="2.40"/>
<line x1="1350.45" y1="475.71" x2="1350.45" y2="485.21" stroke="#555555" stroke-width="2.40"/>
<line x1="1363.17" y1="475.71" x2="1363.17" y2="485.21" stroke="#555555" stroke-width="2.40"/>
<line x1="1388.62" y1="475.95" x2="1388.62" y2="480.20" stroke="#33A14B" stroke-width="2.80"/>
<line x1="1383.87" y1="475.95" x2="1393.37" y2="475.95" stroke="#33A14B" stroke-width="2.80"/>
<line x1="1383.87" y1="480.20" x2="1393.37" y2="480.20" stroke="#33A14B" stroke-width="2.80"/>
<line x1="1382.26" y1="478.07" x2="1394.98" y2="478.07" stroke="#555555" stroke-width="2.40"/>
<line x1="1382.26" y1="473.32" x2="1382.26" y2="482.82" stroke="#555555" stroke-width="2.40"/>
<line x1="1394.98" y1="473.32" x2="1394.98" y2="482.82" stroke="#555555" stroke-width="2.40"/>
<line x1="1420.43" y1="471.96" x2="1420.43" y2="476.74" stroke="#33A14B" stroke-width="2.80"/>
<line x1="1415.68" y1="471.96" x2="1425.18" y2="471.96" stroke="#33A14B" stroke-width="2.80"/>
<line x1="1415.68" y1="476.74" x2="1425.18" y2="476.74" stroke="#33A14B" stroke-width="2.80"/>
<line x1="1414.07" y1="474.35" x2="1426.79" y2="474.35" stroke="#555555" stroke-width="2.40"/>
<line x1="1414.07" y1="469.60" x2="1414.07" y2="479.10" stroke="#555555" stroke-width="2.40"/>
<line x1="1426.79" y1="469.60" x2="1426.79" y2="479.10" stroke="#555555" stroke-width="2.40"/>
<line x1="1452.24" y1="462.66" x2="1452.24" y2="472.76" stroke="#33A14B" stroke-width="2.80"/>
<line x1="1447.49" y1="462.66" x2="1456.99" y2="462.66" stroke="#33A14B" stroke-width="2.80"/>
<line x1="1447.49" y1="472.76" x2="1456.99" y2="472.76" stroke="#33A14B" stroke-width="2.80"/>
<line x1="1445.88" y1="467.71" x2="1458.60" y2="467.71" stroke="#555555" stroke-width="2.40"/>
<line x1="1445.88" y1="462.96" x2="1445.88" y2="472.46" stroke="#555555" stroke-width="2.40"/>
<line x1="1458.60" y1="462.96" x2="1458.60" y2="472.46" stroke="#555555" stroke-width="2.40"/>
<line x1="1515.86" y1="442.19" x2="1515.86" y2="462.12" stroke="#33A14B" stroke-width="2.80"/>
<line x1="1511.11" y1="442.19" x2="1520.61" y2="442.19" stroke="#33A14B" stroke-width="2.80"/>
<line x1="1511.11" y1="462.12" x2="1520.61" y2="462.12" stroke="#33A14B" stroke-width="2.80"/>
<line x1="1509.50" y1="452.02" x2="1522.22" y2="452.02" stroke="#555555" stroke-width="2.40"/>
<line x1="1509.50" y1="447.27" x2="1509.50" y2="456.77" stroke="#555555" stroke-width="2.40"/>
<line x1="1522.22" y1="447.27" x2="1522.22" y2="456.77" stroke="#555555" stroke-width="2.40"/>
<line x1="1579.48" y1="415.61" x2="1579.48" y2="446.71" stroke="#33A14B" stroke-width="2.80"/>
<line x1="1574.73" y1="415.61" x2="1584.23" y2="415.61" stroke="#33A14B" stroke-width="2.80"/>
<line x1="1574.73" y1="446.71" x2="1584.23" y2="446.71" stroke="#33A14B" stroke-width="2.80"/>
<line x1="1573.12" y1="431.03" x2="1585.84" y2="431.03" stroke="#555555" stroke-width="2.40"/>
<line x1="1573.12" y1="426.28" x2="1573.12" y2="435.78" stroke="#555555" stroke-width="2.40"/>
<line x1="1585.84" y1="426.28" x2="1585.84" y2="435.78" stroke="#555555" stroke-width="2.40"/>
<line x1="1643.10" y1="382.12" x2="1643.10" y2="427.04" stroke="#33A14B" stroke-width="2.80"/>
<line x1="1638.35" y1="382.12" x2="1647.85" y2="382.12" stroke="#33A14B" stroke-width="2.80"/>
<line x1="1638.35" y1="427.04" x2="1647.85" y2="427.04" stroke="#33A14B" stroke-width="2.80"/>
<line x1="1636.74" y1="404.18" x2="1649.46" y2="404.18" stroke="#555555" stroke-width="2.40"/>
<line x1="1636.74" y1="399.43" x2="1636.74" y2="408.93" stroke="#555555" stroke-width="2.40"/>
<line x1="1649.46" y1="399.43" x2="1649.46" y2="408.93" stroke="#555555" stroke-width="2.40"/>
<line x1="1706.72" y1="343.84" x2="1706.72" y2="403.65" stroke="#33A14B" stroke-width="2.80"/>
<line x1="1701.97" y1="343.84" x2="1711.47" y2="343.84" stroke="#33A14B" stroke-width="2.80"/>
<line x1="1701.97" y1="403.65" x2="1711.47" y2="403.65" stroke="#33A14B" stroke-width="2.80"/>
<line x1="1700.36" y1="373.35" x2="1713.08" y2="373.35" stroke="#555555" stroke-width="2.40"/>
<line x1="1700.36" y1="368.60" x2="1700.36" y2="378.10" stroke="#555555" stroke-width="2.40"/>
<line x1="1713.08" y1="368.60" x2="1713.08" y2="378.10" stroke="#555555" stroke-width="2.40"/>
<line x1="1770.34" y1="301.85" x2="1770.34" y2="374.94" stroke="#33A14B" stroke-width="2.80"/>
<line x1="1765.59" y1="301.85" x2="1775.09" y2="301.85" stroke="#33A14B" stroke-width="2.80"/>
<line x1="1765.59" y1="374.94" x2="1775.09" y2="374.94" stroke="#33A14B" stroke-width="2.80"/>
<line x1="1763.98" y1="339.06" x2="1776.70" y2="339.06" stroke="#555555" stroke-width="2.40"/>
<line x1="1763.98" y1="334.31" x2="1763.98" y2="343.81" stroke="#555555" stroke-width="2.40"/>
<line x1="1776.70" y1="334.31" x2="1776.70" y2="343.81" stroke="#555555" stroke-width="2.40"/>
<line x1="1833.96" y1="258.79" x2="1833.96" y2="345.70" stroke="#33A14B" stroke-width="2.80"/>
<line x1="1829.21" y1="258.79" x2="1838.71" y2="258.79" stroke="#33A14B" stroke-width="2.80"/>
<line x1="1829.21" y1="345.70" x2="1838.71" y2="345.70" stroke="#33A14B" stroke-width="2.80"/>
<line x1="1827.60" y1="302.11" x2="1840.32" y2="302.11" stroke="#555555" stroke-width="2.40"/>
<line x1="1827.60" y1="297.36" x2="1827.60" y2="306.86" stroke="#555555" stroke-width="2.40"/>
<line x1="1840.32" y1="297.36" x2="1840.32" y2="306.86" stroke="#555555" stroke-width="2.40"/>
<line x1="1897.58" y1="213.34" x2="1897.58" y2="315.14" stroke="#33A14B" stroke-width="2.80"/>
<line x1="1892.83" y1="213.34" x2="1902.33" y2="213.34" stroke="#33A14B" stroke-width="2.80"/>
<line x1="1892.83" y1="315.14" x2="1902.33" y2="315.14" stroke="#33A14B" stroke-width="2.80"/>
<line x1="1891.22" y1="264.37" x2="1903.94" y2="264.37" stroke="#555555" stroke-width="2.40"/>
<line x1="1891.22" y1="259.62" x2="1891.22" y2="269.12" stroke="#555555" stroke-width="2.40"/>
<line x1="1903.94" y1="259.62" x2="1903.94" y2="269.12" stroke="#555555" stroke-width="2.40"/>
<polyline points="1356.81,508.37 1388.62,507.31 1420.43,503.32 1452.24,496.94 1515.86,478.87 1579.48,460.26 1643.10,437.14 1706.72,408.43 1770.34,374.14 1833.96,344.38 1897.58,306.63" fill="none" stroke="#4472C4" stroke-width="3.0" stroke-linejoin="round"/>
<circle cx="1356.81" cy="508.37" r="6.0" fill="#4472C4"/>
<circle cx="1388.62" cy="507.31" r="6.0" fill="#4472C4"/>
<circle cx="1420.43" cy="503.32" r="6.0" fill="#4472C4"/>
<circle cx="1452.24" cy="496.94" r="6.0" fill="#4472C4"/>
<circle cx="1515.86" cy="478.87" r="6.0" fill="#4472C4"/>
<circle cx="1579.48" cy="460.26" r="6.0" fill="#4472C4"/>
<circle cx="1643.10" cy="437.14" r="6.0" fill="#4472C4"/>
<circle cx="1706.72" cy="408.43" r="6.0" fill="#4472C4"/>
<circle cx="1770.34" cy="374.14" r="6.0" fill="#4472C4"/>
<circle cx="1833.96" cy="344.38" r="6.0" fill="#4472C4"/>
<circle cx="1897.58" cy="306.63" r="6.0" fill="#4472C4"/>
<polyline points="1356.81,509.70 1388.62,508.91 1420.43,506.51 1452.24,500.67 1515.86,481.00 1579.48,462.66 1643.10,440.06 1706.72,411.09 1770.34,376.80 1833.96,347.30 1897.58,309.82" fill="none" stroke="#ED7D31" stroke-width="3.0" stroke-linejoin="round"/>
<circle cx="1356.81" cy="509.70" r="6.0" fill="#ED7D31"/>
<circle cx="1388.62" cy="508.91" r="6.0" fill="#ED7D31"/>
<circle cx="1420.43" cy="506.51" r="6.0" fill="#ED7D31"/>
<circle cx="1452.24" cy="500.67" r="6.0" fill="#ED7D31"/>
<circle cx="1515.86" cy="481.00" r="6.0" fill="#ED7D31"/>
<circle cx="1579.48" cy="462.66" r="6.0" fill="#ED7D31"/>
<circle cx="1643.10" cy="440.06" r="6.0" fill="#ED7D31"/>
<circle cx="1706.72" cy="411.09" r="6.0" fill="#ED7D31"/>
<circle cx="1770.34" cy="376.80" r="6.0" fill="#ED7D31"/>
<circle cx="1833.96" cy="347.30" r="6.0" fill="#ED7D31"/>
<circle cx="1897.58" cy="309.82" r="6.0" fill="#ED7D31"/>
<path d="M1356.81,480.46 C1362.11,480.07 1378.02,479.09 1388.62,478.07 C1399.22,477.05 1409.83,476.08 1420.43,474.35 C1431.03,472.62 1436.34,471.43 1452.24,467.71 C1468.14,463.99 1494.65,458.14 1515.86,452.02 C1537.07,445.91 1558.27,439.00 1579.48,431.03 C1600.69,423.05 1621.89,413.79 1643.10,404.18 C1664.31,394.57 1685.51,384.20 1706.72,373.35 C1727.93,362.49 1749.13,350.93 1770.34,339.06 C1791.55,327.19 1812.75,314.56 1833.96,302.11 C1855.17,289.66 1886.98,270.66 1897.58,264.37" fill="none" stroke="#33A14B" stroke-width="3"/>
<circle cx="1356.81" cy="480.46" r="6.0" fill="#3AA352"/>
<circle cx="1388.62" cy="478.07" r="6.0" fill="#3AA352"/>
<circle cx="1420.43" cy="474.35" r="6.0" fill="#3AA352"/>
<circle cx="1452.24" cy="467.71" r="6.0" fill="#3AA352"/>
<circle cx="1515.86" cy="452.02" r="6.0" fill="#3AA352"/>
<circle cx="1579.48" cy="431.03" r="6.0" fill="#3AA352"/>
<circle cx="1643.10" cy="404.18" r="6.0" fill="#3AA352"/>
<circle cx="1706.72" cy="373.35" r="6.0" fill="#3AA352"/>
<circle cx="1770.34" cy="339.06" r="6.0" fill="#3AA352"/>
<circle cx="1833.96" cy="302.11" r="6.0" fill="#3AA352"/>
<circle cx="1897.58" cy="264.37" r="6.0" fill="#3AA352"/>
<text x="1373.01" y="515.97" font-size="20.00" text-anchor="start" fill="#595959" textLength="38.93" lengthAdjust="spacingAndGlyphs">0,08</text>
<text x="1404.82" y="514.91" font-size="20.00" text-anchor="start" fill="#595959" textLength="38.93" lengthAdjust="spacingAndGlyphs">0,12</text>
<text x="1436.63" y="510.92" font-size="20.00" text-anchor="start" fill="#595959" textLength="38.93" lengthAdjust="spacingAndGlyphs">0,27</text>
<text x="1468.44" y="504.54" font-size="20.00" text-anchor="start" fill="#595959" textLength="38.93" lengthAdjust="spacingAndGlyphs">0,51</text>
<text x="1532.06" y="486.47" font-size="20.00" text-anchor="start" fill="#595959" textLength="38.93" lengthAdjust="spacingAndGlyphs">1,19</text>
<text x="1595.68" y="467.86" font-size="20.00" text-anchor="start" fill="#595959" textLength="38.93" lengthAdjust="spacingAndGlyphs">1,89</text>
<text x="1659.30" y="444.74" font-size="20.00" text-anchor="start" fill="#595959" textLength="38.93" lengthAdjust="spacingAndGlyphs">2,76</text>
<text x="1722.92" y="416.03" font-size="20.00" text-anchor="start" fill="#595959" textLength="38.93" lengthAdjust="spacingAndGlyphs">3,84</text>
<text x="1786.54" y="381.74" font-size="20.00" text-anchor="start" fill="#595959" textLength="38.93" lengthAdjust="spacingAndGlyphs">5,13</text>
<text x="1850.16" y="351.98" font-size="20.00" text-anchor="start" fill="#595959" textLength="38.93" lengthAdjust="spacingAndGlyphs">6,25</text>
<text x="1913.78" y="314.23" font-size="20.00" text-anchor="start" fill="#595959" textLength="38.93" lengthAdjust="spacingAndGlyphs">7,67</text>
<text x="1326.60" y="79.70" font-size="28.00" fill="#595959" font-weight="bold" class="b" textLength="955.80" lengthAdjust="spacingAndGlyphs">Comparison of measured and simulated saturation for DW contrast in</text>
<text x="1675.60" y="114.40" font-size="28.00" fill="#595959" font-weight="bold" class="b" textLength="256.80" lengthAdjust="spacingAndGlyphs">spherical phantom</text>
<text x="1528.40" y="699.90" font-size="28.00" fill="#595959" class="r" textLength="228.80" lengthAdjust="spacingAndGlyphs">T<tspan font-size="19.0" dy="6.0">2</tspan><tspan dy="-6.0">*W flip angle [°]</tspan></text>
<text transform="translate(1235.5,404.3) rotate(-90)" x="0" y="0" font-size="28" fill="#595959" text-anchor="middle" textLength="182.8" lengthAdjust="spacingAndGlyphs">Saturation [%]</text>
<line x1="2012.20" y1="294.60" x2="2054.70" y2="294.60" stroke="#4472C4" stroke-width="3.00" stroke-linecap="round"/>
<circle cx="2032.9" cy="294.60" r="6.0" fill="#4472C4"/>
<text x="2056.50" y="302.90" font-size="25.50" fill="#595959" class="r" textLength="296.10" lengthAdjust="spacingAndGlyphs">Measured DW Saturation in</text>
<text x="2056.00" y="332.40" font-size="25.50" fill="#595959" class="r" textLength="300.40" lengthAdjust="spacingAndGlyphs">Phantom with slice-GRAPPA</text>
<text x="2056.00" y="361.90" font-size="25.50" fill="#595959" class="r" textLength="159.60" lengthAdjust="spacingAndGlyphs">Reconstruction</text>
<line x1="2012.20" y1="393.20" x2="2054.70" y2="393.20" stroke="#ED7D31" stroke-width="3.00" stroke-linecap="round"/>
<circle cx="2032.9" cy="393.20" r="6.0" fill="#ED7D31"/>
<text x="2056.50" y="401.50" font-size="25.50" fill="#595959" class="r" textLength="359.90" lengthAdjust="spacingAndGlyphs">Measured DW Saturation without</text>
<text x="2057.00" y="431.00" font-size="25.50" fill="#595959" class="r" textLength="308.20" lengthAdjust="spacingAndGlyphs">slice-GRAPPA Reconstruction</text>
<line x1="2012.20" y1="492.30" x2="2054.70" y2="492.30" stroke="#33A14B" stroke-width="3.00" stroke-linecap="round"/>
<circle cx="2032.9" cy="492.30" r="6.0" fill="#3AA352"/>
<text x="2056.50" y="500.60" font-size="25.50" fill="#595959" class="r" textLength="296.10" lengthAdjust="spacingAndGlyphs">Simulated DW Saturation in</text>
<text x="2056.00" y="530.10" font-size="25.50" fill="#595959" class="r" textLength="97.20" lengthAdjust="spacingAndGlyphs">Phantom</text>
<rect x="86.2" y="870" width="1553.6" height="40" fill="#F2F2F2"/>
<text x="87.80" y="818.20" font-size="30.00" fill="#000" class="r" textLength="1011.60" lengthAdjust="spacingAndGlyphs">Three repetitions of DW and T<tspan font-size="20.0" dy="6.0">2</tspan><tspan dy="-6.0">*W SMC measurements with T</tspan><tspan font-size="20.0" dy="6.0">2</tspan><tspan dy="-6.0">*W flip angle = 5°</tspan></text>
<text x="86.80" y="853.00" font-size="30.00" fill="#000" class="r" textLength="182.20" lengthAdjust="spacingAndGlyphs">Saturation [%]</text>
<text x="167.60" y="900.30" font-size="25.00" fill="#000" class="rb" textLength="226.20" lengthAdjust="spacingAndGlyphs">Mean DW Saturation</text>
<text x="664.60" y="900.30" font-size="25.00" fill="#000" class="rb" textLength="71.20" lengthAdjust="spacingAndGlyphs">STDEV</text>
<text x="963.40" y="900.30" font-size="25.00" fill="#000" class="rb" textLength="246.40" lengthAdjust="spacingAndGlyphs">Mean T<tspan font-size="17.0" dy="5.0">2</tspan><tspan dy="-5.0">*W Saturation</tspan></text>
<text x="1411.00" y="900.30" font-size="25.00" fill="#000" class="rb" textLength="71.80" lengthAdjust="spacingAndGlyphs">STDEV</text>
<text x="256.20" y="938.00" font-size="25.00" fill="#000" class="r" textLength="48.40" lengthAdjust="spacingAndGlyphs">0,43</text>
<text x="672.80" y="938.00" font-size="25.00" fill="#000" class="r" textLength="49.00" lengthAdjust="spacingAndGlyphs">0,34</text>
<text x="1062.80" y="938.00" font-size="25.00" fill="#000" class="r" textLength="44.60" lengthAdjust="spacingAndGlyphs">9,91</text>
<text x="1422.80" y="938.00" font-size="25.00" fill="#000" class="r" textLength="48.60" lengthAdjust="spacingAndGlyphs">0,37</text>
</svg>
</body></html>
